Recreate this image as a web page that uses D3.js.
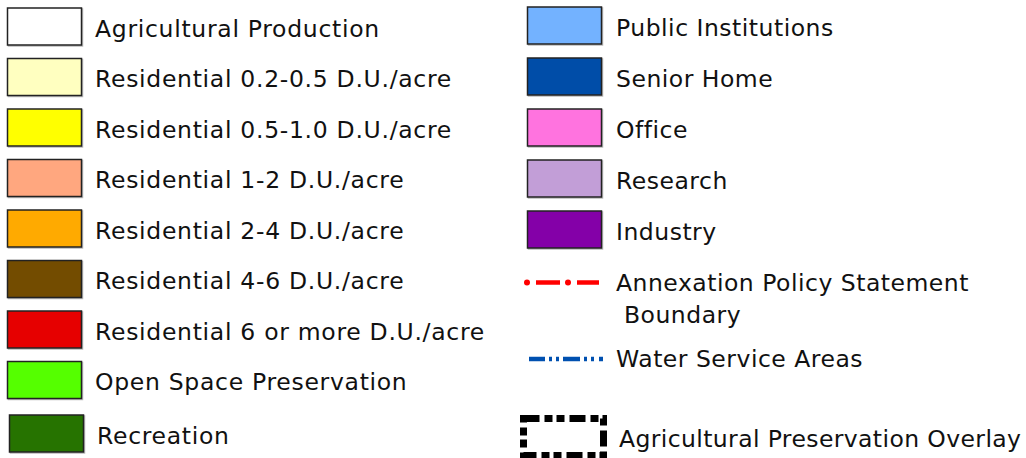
<!DOCTYPE html>
<html>
<head>
<meta charset="utf-8">
<script src="https://cdn.jsdelivr.net/npm/d3@7"></script>
<style>
  html, body { margin: 0; padding: 0; background: #fff; }
  svg { display: block; }
  text { font-family: "DejaVu Sans", sans-serif; font-size: 23.5px; letter-spacing: 0.7px; fill: #111; }
  .right text { letter-spacing: 0.5px; }
</style>
</head>
<body>
<div id="chart"></div>
<script>
"use strict";

// legend content, left column
var leftLabels = [
    "Agricultural Production",
    "Residential 0.2-0.5 D.U./acre",
    "Residential 0.5-1.0 D.U./acre",
    "Residential 1-2 D.U./acre",
    "Residential 2-4 D.U./acre",
    "Residential 4-6 D.U./acre",
    "Residential 6 or more D.U./acre",
    "Open Space Preservation",
    "Recreation"
];
var leftColors = ["#ffffff", "#ffffc0", "#ffff00", "#ffa77f", "#ffaa00",
                  "#734c00", "#e60000", "#55ff00", "#267300"];

// right column fills
var rightLabels = ["Public Institutions", "Senior Home", "Office", "Research", "Industry"];
var rightColors = ["#73b2ff", "#004da8", "#ff73df", "#c29ed7", "#8400a8"];

// line / overlay symbols
var lineLabels = [["Annexation Policy Statement", " Boundary"], ["Water Service Areas"]];
var lineColors = ["#ff0000", "#0050b0"];
var overlayLabel = "Agricultural Preservation Overlay";

var width = 1026, height = 458;

var svg = d3.select("#chart").append("svg")
    .attr("width", width)
    .attr("height", height);

// row scales: index -> top of swatch
var leftY = d3.scaleLinear().domain([0, 1]).range([8, 58.5]);
var rightY = d3.scaleLinear().domain([0, 1]).range([7, 58]);
var boxW = 74, boxH = 37;

function swatches(g, labels, colors, x, yScale, textX) {
    var row = g.selectAll("g.row")
        .data(labels)
        .enter().append("g")
        .attr("class", "row")
        .attr("transform", function(d, i) {
            // recreation sits a touch lower / right in the original
            var extra = (colors === leftColors && i === 8) ? [2, 3] : [0, 0];
            return "translate(" + (x + extra[0]) + "," + (yScale(i) + extra[1]) + ")";
        });

    row.append("rect")
        .attr("x", 1).attr("y", 1)
        .attr("width", boxW).attr("height", boxH)
        .style("fill", "none")
        .style("stroke", "#bbb")
        .style("stroke-width", 1.5);

    row.append("rect")
        .attr("width", boxW).attr("height", boxH)
        .style("fill", function(d, i) { return colors[i]; })
        .style("stroke", "#222")
        .style("stroke-width", 1.5);

    row.append("text")
        .attr("x", textX - x)
        .attr("y", boxH / 2 + 2)
        .attr("dy", "0.36em")
        .text(function(d) { return d; });
}

swatches(svg.append("g"), leftLabels, leftColors, 7.5, leftY, 95);

var right = svg.append("g").attr("class", "right");
swatches(right.append("g"), rightLabels, rightColors, 527.5, rightY, 616);

// annexation boundary: dash-dot red line
var redY = rightY(5) + boxH / 2 + 2;
var red = right.append("g").attr("transform", "translate(0," + redY + ")");
[[536, 560], [577, 599]].forEach(function(s) {
    red.append("line")
        .attr("x1", s[0]).attr("x2", s[1])
        .style("stroke", lineColors[0])
        .style("stroke-width", 4.5);
});
[527, 568].forEach(function(cx) {
    red.append("circle").attr("cx", cx).attr("r", 3).style("fill", lineColors[0]);
});
red.selectAll("text")
    .data(lineLabels[0])
    .enter().append("text")
    .attr("x", 616)
    .attr("y", function(d, i) { return i * 32; })
    .attr("dy", "0.36em")
    .attr("xml:space", "preserve")
    .text(function(d) { return d; });

// water service areas: blue dash-dot-dot
var blueY = rightY(6.5) + boxH / 2 + 2;
var blue = right.append("g").attr("transform", "translate(0," + blueY + ")");
[[529, 545], [549, 552], [556, 559], [563, 580], [584, 587], [591, 594], [599, 603]].forEach(function(s) {
    blue.append("line")
        .attr("x1", s[0]).attr("x2", s[1])
        .style("stroke", lineColors[1])
        .style("stroke-width", 4.5);
});
blue.append("text")
    .attr("x", 616)
    .attr("dy", "0.36em")
    .text(lineLabels[1][0]);

// agricultural preservation overlay: thick dashed box
var ovY = rightY(8) + 2;
var ov = right.append("g").attr("transform", "translate(0," + ovY + ")");
ov.append("rect")
    .attr("x", 523.5).attr("y", 1.5)
    .attr("width", 80).attr("height", 37)
    .style("fill", "none")
    .style("stroke", "#000")
    .style("stroke-width", 7)
    .style("stroke-dasharray", "16 5 8 4 8 5");
ov.append("text")
    .attr("x", 619)
    .attr("y", boxH / 2 + 3)
    .attr("dy", "0.36em")
    .attr("textLength", 402)
    .attr("lengthAdjust", "spacing")
    .style("letter-spacing", "0px")
    .text(overlayLabel);
</script>
</body>
</html>
